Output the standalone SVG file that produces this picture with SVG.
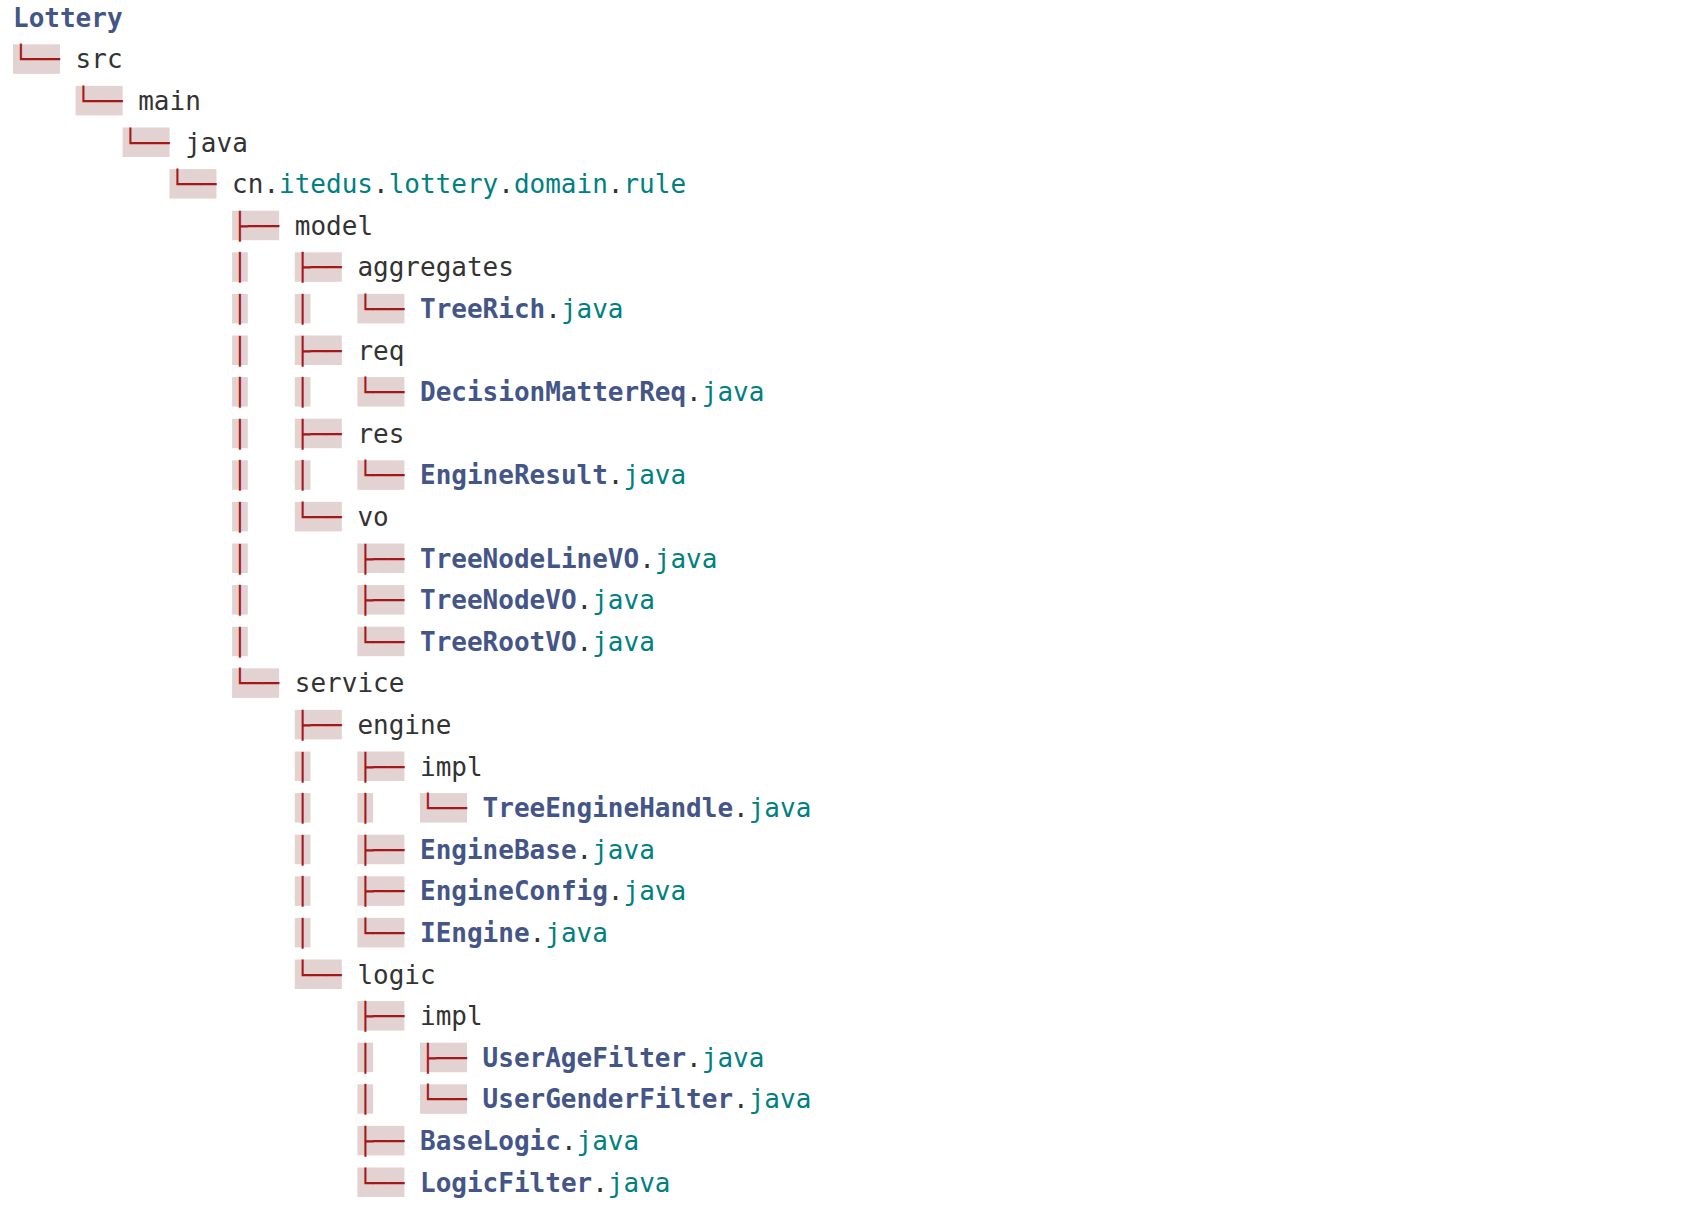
<svg xmlns="http://www.w3.org/2000/svg" width="1688" height="1206" viewBox="0 0 1688 1206">
<style>
text{font-family:"DejaVu Sans Mono","Liberation Mono",monospace;font-size:26px}
.hl{fill:#e3d2d2}
.bx{fill:#a61717}
.t{fill:#333333}
.c{fill:#445588;font-weight:bold}
.v{fill:#008080}
</style>
<rect width="1688" height="1206" fill="#ffffff"/>
<g id="connectors">
<!-- r1 -->
<rect class="hl" x="13" y="44.3" width="47" height="29.5"/><text class="bx" x="13" y="68.3">└──</text>
<!-- r2 -->
<rect class="hl" x="75.6" y="85.9" width="47" height="29.5"/><text class="bx" x="75.6" y="109.9">└──</text>
<!-- r3 -->
<rect class="hl" x="122.6" y="127.5" width="47" height="29.5"/><text class="bx" x="122.6" y="151.5">└──</text>
<!-- r4 -->
<rect class="hl" x="169.5" y="169.1" width="47" height="29.5"/><text class="bx" x="169.5" y="193.1">└──</text>
<!-- r5 -->
<rect class="hl" x="232.1" y="210.7" width="47" height="29.5"/><text class="bx" x="232.1" y="234.7">├──</text>
<!-- r6 -->
<rect class="hl" x="232.1" y="252.3" width="15.7" height="29.5"/><text class="bx" x="232.1" y="276.3">│</text>
<rect class="hl" x="294.8" y="252.3" width="47" height="29.5"/><text class="bx" x="294.8" y="276.3">├──</text>
<!-- r7 -->
<rect class="hl" x="232.1" y="293.9" width="15.7" height="29.5"/><text class="bx" x="232.1" y="317.9">│</text>
<rect class="hl" x="294.8" y="293.9" width="15.7" height="29.5"/><text class="bx" x="294.8" y="317.9">│</text>
<rect class="hl" x="357.4" y="293.9" width="47" height="29.5"/><text class="bx" x="357.4" y="317.9">└──</text>
<!-- r8 -->
<rect class="hl" x="232.1" y="335.5" width="15.7" height="29.5"/><text class="bx" x="232.1" y="359.5">│</text>
<rect class="hl" x="294.8" y="335.5" width="47" height="29.5"/><text class="bx" x="294.8" y="359.5">├──</text>
<!-- r9 -->
<rect class="hl" x="232.1" y="377.1" width="15.7" height="29.5"/><text class="bx" x="232.1" y="401.1">│</text>
<rect class="hl" x="294.8" y="377.1" width="15.7" height="29.5"/><text class="bx" x="294.8" y="401.1">│</text>
<rect class="hl" x="357.4" y="377.1" width="47" height="29.5"/><text class="bx" x="357.4" y="401.1">└──</text>
<!-- r10 -->
<rect class="hl" x="232.1" y="418.7" width="15.7" height="29.5"/><text class="bx" x="232.1" y="442.7">│</text>
<rect class="hl" x="294.8" y="418.7" width="47" height="29.5"/><text class="bx" x="294.8" y="442.7">├──</text>
<!-- r11 -->
<rect class="hl" x="232.1" y="460.3" width="15.7" height="29.5"/><text class="bx" x="232.1" y="484.3">│</text>
<rect class="hl" x="294.8" y="460.3" width="15.7" height="29.5"/><text class="bx" x="294.8" y="484.3">│</text>
<rect class="hl" x="357.4" y="460.3" width="47" height="29.5"/><text class="bx" x="357.4" y="484.3">└──</text>
<!-- r12 -->
<rect class="hl" x="232.1" y="501.9" width="15.7" height="29.5"/><text class="bx" x="232.1" y="525.9">│</text>
<rect class="hl" x="294.8" y="501.9" width="47" height="29.5"/><text class="bx" x="294.8" y="525.9">└──</text>
<!-- r13 -->
<rect class="hl" x="232.1" y="543.5" width="15.7" height="29.5"/><text class="bx" x="232.1" y="567.5">│</text>
<rect class="hl" x="357.4" y="543.5" width="47" height="29.5"/><text class="bx" x="357.4" y="567.5">├──</text>
<!-- r14 -->
<rect class="hl" x="232.1" y="585.1" width="15.7" height="29.5"/><text class="bx" x="232.1" y="609.1">│</text>
<rect class="hl" x="357.4" y="585.1" width="47" height="29.5"/><text class="bx" x="357.4" y="609.1">├──</text>
<!-- r15 -->
<rect class="hl" x="232.1" y="626.7" width="15.7" height="29.5"/><text class="bx" x="232.1" y="650.7">│</text>
<rect class="hl" x="357.4" y="626.7" width="47" height="29.5"/><text class="bx" x="357.4" y="650.7">└──</text>
<!-- r16 -->
<rect class="hl" x="232.1" y="668.3" width="47" height="29.5"/><text class="bx" x="232.1" y="692.3">└──</text>
<!-- r17 -->
<rect class="hl" x="294.8" y="709.9" width="47" height="29.5"/><text class="bx" x="294.8" y="733.9">├──</text>
<!-- r18 -->
<rect class="hl" x="294.8" y="751.5" width="15.7" height="29.5"/><text class="bx" x="294.8" y="775.5">│</text>
<rect class="hl" x="357.4" y="751.5" width="47" height="29.5"/><text class="bx" x="357.4" y="775.5">├──</text>
<!-- r19 -->
<rect class="hl" x="294.8" y="793.1" width="15.7" height="29.5"/><text class="bx" x="294.8" y="817.1">│</text>
<rect class="hl" x="357.4" y="793.1" width="15.7" height="29.5"/><text class="bx" x="357.4" y="817.1">│</text>
<rect class="hl" x="420" y="793.1" width="47" height="29.5"/><text class="bx" x="420" y="817.1">└──</text>
<!-- r20 -->
<rect class="hl" x="294.8" y="834.7" width="15.7" height="29.5"/><text class="bx" x="294.8" y="858.7">│</text>
<rect class="hl" x="357.4" y="834.7" width="47" height="29.5"/><text class="bx" x="357.4" y="858.7">├──</text>
<!-- r21 -->
<rect class="hl" x="294.8" y="876.3" width="15.7" height="29.5"/><text class="bx" x="294.8" y="900.3">│</text>
<rect class="hl" x="357.4" y="876.3" width="47" height="29.5"/><text class="bx" x="357.4" y="900.3">├──</text>
<!-- r22 -->
<rect class="hl" x="294.8" y="917.9" width="15.7" height="29.5"/><text class="bx" x="294.8" y="941.9">│</text>
<rect class="hl" x="357.4" y="917.9" width="47" height="29.5"/><text class="bx" x="357.4" y="941.9">└──</text>
<!-- r23 -->
<rect class="hl" x="294.8" y="959.5" width="47" height="29.5"/><text class="bx" x="294.8" y="983.5">└──</text>
<!-- r24 -->
<rect class="hl" x="357.4" y="1001.1" width="47" height="29.5"/><text class="bx" x="357.4" y="1025.1">├──</text>
<!-- r25 -->
<rect class="hl" x="357.4" y="1042.7" width="15.7" height="29.5"/><text class="bx" x="357.4" y="1066.7">│</text>
<rect class="hl" x="420" y="1042.7" width="47" height="29.5"/><text class="bx" x="420" y="1066.7">├──</text>
<!-- r26 -->
<rect class="hl" x="357.4" y="1084.3" width="15.7" height="29.5"/><text class="bx" x="357.4" y="1108.3">│</text>
<rect class="hl" x="420" y="1084.3" width="47" height="29.5"/><text class="bx" x="420" y="1108.3">└──</text>
<!-- r27 -->
<rect class="hl" x="357.4" y="1125.9" width="47" height="29.5"/><text class="bx" x="357.4" y="1149.9">├──</text>
<!-- r28 -->
<rect class="hl" x="357.4" y="1167.5" width="47" height="29.5"/><text class="bx" x="357.4" y="1191.5">└──</text>
</g>
<g id="n0"><text class="c" x="13" y="26.7">Lottery</text></g>
<g id="n1"><text class="t" x="75.6" y="68.3">src</text></g>
<g id="n2"><text class="t" x="138.2" y="109.9">main</text></g>
<g id="n3"><text class="t" x="185.2" y="151.5">java</text></g>
<g id="n4"><text class="t" x="232.1" y="193.1">cn.<tspan class="v">itedus</tspan>.<tspan class="v">lottery</tspan>.<tspan class="v">domain</tspan>.<tspan class="v">rule</tspan></text></g>
<g id="n5"><text class="t" x="294.8" y="234.7">model</text></g>
<g id="n6"><text class="t" x="357.4" y="276.3">aggregates</text></g>
<g id="n7"><text class="t" x="420" y="317.9"><tspan class="c">TreeRich</tspan>.<tspan class="v">java</tspan></text></g>
<g id="n8"><text class="t" x="357.4" y="359.5">req</text></g>
<g id="n9"><text class="t" x="420" y="401.1"><tspan class="c">DecisionMatterReq</tspan>.<tspan class="v">java</tspan></text></g>
<g id="n10"><text class="t" x="357.4" y="442.7">res</text></g>
<g id="n11"><text class="t" x="420" y="484.3"><tspan class="c">EngineResult</tspan>.<tspan class="v">java</tspan></text></g>
<g id="n12"><text class="t" x="357.4" y="525.9">vo</text></g>
<g id="n13"><text class="t" x="420" y="567.5"><tspan class="c">TreeNodeLineVO</tspan>.<tspan class="v">java</tspan></text></g>
<g id="n14"><text class="t" x="420" y="609.1"><tspan class="c">TreeNodeVO</tspan>.<tspan class="v">java</tspan></text></g>
<g id="n15"><text class="t" x="420" y="650.7"><tspan class="c">TreeRootVO</tspan>.<tspan class="v">java</tspan></text></g>
<g id="n16"><text class="t" x="294.8" y="692.3">service</text></g>
<g id="n17"><text class="t" x="357.4" y="733.9">engine</text></g>
<g id="n18"><text class="t" x="420" y="775.5">impl</text></g>
<g id="n19"><text class="t" x="482.6" y="817.1"><tspan class="c">TreeEngineHandle</tspan>.<tspan class="v">java</tspan></text></g>
<g id="n20"><text class="t" x="420" y="858.7"><tspan class="c">EngineBase</tspan>.<tspan class="v">java</tspan></text></g>
<g id="n21"><text class="t" x="420" y="900.3"><tspan class="c">EngineConfig</tspan>.<tspan class="v">java</tspan></text></g>
<g id="n22"><text class="t" x="420" y="941.9"><tspan class="c">IEngine</tspan>.<tspan class="v">java</tspan></text></g>
<g id="n23"><text class="t" x="357.4" y="983.5">logic</text></g>
<g id="n24"><text class="t" x="420" y="1025.1">impl</text></g>
<g id="n25"><text class="t" x="482.6" y="1066.7"><tspan class="c">UserAgeFilter</tspan>.<tspan class="v">java</tspan></text></g>
<g id="n26"><text class="t" x="482.6" y="1108.3"><tspan class="c">UserGenderFilter</tspan>.<tspan class="v">java</tspan></text></g>
<g id="n27"><text class="t" x="420" y="1149.9"><tspan class="c">BaseLogic</tspan>.<tspan class="v">java</tspan></text></g>
<g id="n28"><text class="t" x="420" y="1191.5"><tspan class="c">LogicFilter</tspan>.<tspan class="v">java</tspan></text></g>
</svg>
